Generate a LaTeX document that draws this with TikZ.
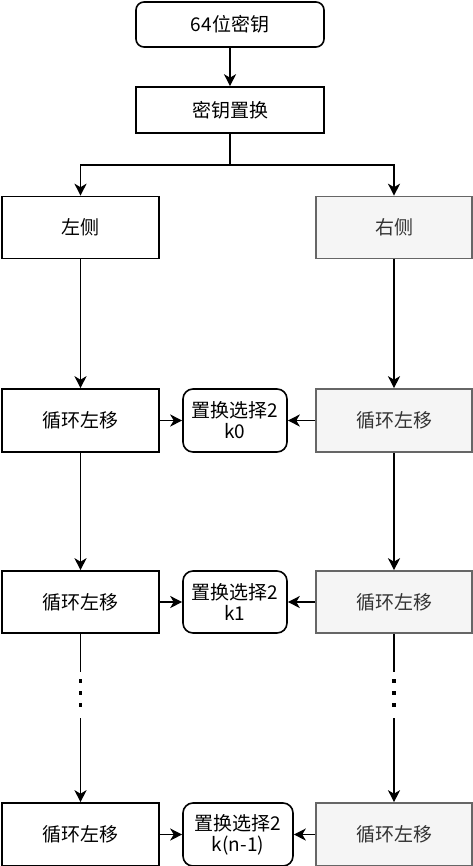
\documentclass[tikz,border=0pt]{standalone}
\usepackage{fontspec}
\newfontfamily\cjk{Noto Sans CJK SC}
\usetikzlibrary{arrows.meta}
\definecolor{rfill}{HTML}{F5F5F5}
\definecolor{rline}{HTML}{666666}
\definecolor{rtext}{HTML}{333333}
\tikzset{
  base/.style={font=\cjk\fontsize{19}{21}\selectfont, line width=1.6pt, draw=black, inner sep=0pt, align=center},
  lbox/.style={base, rectangle, minimum width=157pt, minimum height=62pt},
  rbox/.style={base, rectangle, draw=rline, fill=rfill, text=rtext, minimum width=156pt, minimum height=62pt},
  kbox/.style={base, rectangle, rounded corners=10pt, minimum width=104pt, minimum height=62pt},
  topbox/.style={base, rectangle, rounded corners=8pt, minimum width=188pt, minimum height=45pt},
  conn/.style={line width=1.5pt, draw=black},
  arr/.style={conn, -{Stealth[length=12pt, width=12pt, inset=3.5pt]}},
  dotm/.style={fill=black, draw=none, minimum size=3.2pt, inner sep=0pt, rectangle}
}
\begin{document}
\begin{tikzpicture}[x=1pt, y=-1pt]
\useasboundingbox (0,0) rectangle (473,866);
\node[topbox] (key) at (230,24.5) {64位密钥};
\node[topbox, rounded corners=0pt, minimum height=46pt] (perm) at (230,110) {密钥置换};
\coordinate (split) at (230,165);
\node[lbox] (L0) at (80.5,227.5) {左侧};
\node[rbox] (R0) at (394,227.5) {右侧};

\node[lbox, minimum height=63pt] (L1) at (80.5,420.5) {循环左移};
\node[rbox, minimum height=63pt] (R1) at (394,420.5) {循环左移};
\node[kbox, minimum height=63pt] (K1) at (235,420.5) {置换选择2\\k0};

\node[lbox] (L2) at (80.5,602) {循环左移};
\node[rbox] (R2) at (394,602) {循环左移};
\node[kbox] (K2) at (235,602) {置换选择2\\k1};

\node[lbox, minimum height=63pt] (L3) at (80.5,834.5) {循环左移};
\node[rbox, minimum height=63pt] (R3) at (394,834.5) {循环左移};
\node[kbox, minimum height=63pt, minimum width=110pt] (K3) at (238,834.5) {置换选择2\\k(n-1)};

\draw[arr] (key) -- (perm);
\draw[conn] (perm.south) -- (split);
\draw[arr] (split) -| (L0.north);
\draw[arr] (split) -| (R0.north);

\draw[arr] (L0) -- (L1);
\draw[arr] (R0) -- (R1);
\draw[arr] (L1) -- (K1);
\draw[arr] (R1) -- (K1);

\draw[arr] (L1) -- (L2);
\draw[arr] (R1) -- (R2);
\draw[arr] (L2) -- (K2);
\draw[arr] (R2) -- (K2);

\coordinate (la) at (80.5,672);
\coordinate (lb) at (80.5,718);
\coordinate (ra) at (394,672);
\coordinate (rb) at (394,718);
\draw[conn] (L2) -- (la);
\draw[conn] (R2) -- (ra);
\foreach \yy [count=\i] in {681,693,705}{
  \node[dotm] (ld\i) at (80.5,\yy) {};
  \node[dotm] (rd\i) at (394,\yy) {};
}
\draw[arr] (lb) -- (L3);
\draw[arr] (rb) -- (R3);
\draw[arr] (L3) -- (K3);
\draw[arr] (R3) -- (K3);
\end{tikzpicture}
\end{document}
